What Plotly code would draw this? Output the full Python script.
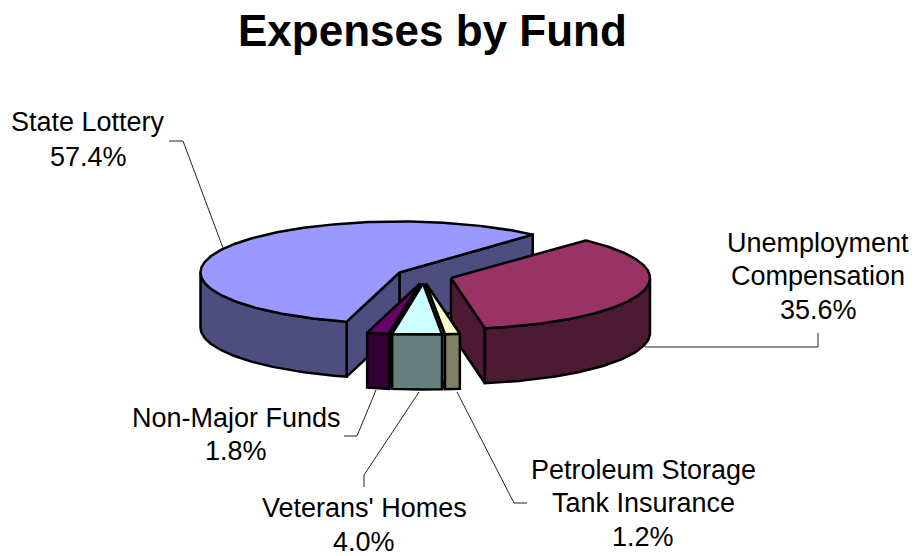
import numpy as np
import plotly.graph_objects as go

# ---- data ----
funds = ["State Lottery", "Unemployment Compensation", "Petroleum Storage Tank Insurance",
         "Veterans' Homes", "Non-Major Funds"]
shares = [57.4, 35.6, 1.2, 4.0, 1.8]
label_lines = [["State Lottery"], ["Unemployment", "Compensation"],
               ["Petroleum Storage", "Tank Insurance"], ["Veterans' Homes"], ["Non-Major Funds"]]

top_colors = ["#9999FF", "#993366", "#FFFFCC", "#CCFFFF", "#660066"]
side_colors = ["#4D4D80", "#4D1A33", "#808066", "#668080", "#330033"]

# ---- pie geometry (pixel frame) ----
RX, RY, DEPTH = 199.0, 51.0, 55.0
FIRST_CLOCK = 195.4               # clock angle where the first slice starts
apexes = [(399.5, 272.5), (451, 278), (426, 283.5), (423, 283.5), (420, 283.5)]
draw_order = [0, 1, 4, 2, 3]
label_xy = [[(88, 122)], [(818, 243), (818, 276)], [(643, 470), (643, 503)], [(364, 508)], [(236, 418)]]
pct_xy = [(88, 157), (818, 310), (643, 537), (364, 542), (236, 451)]
leaders = [
    [(223, 248), (183, 141), (169, 141)],
    [(645, 347), (818, 347), (818, 333)],
    [(457, 392), (514, 503), (527, 503)],
    [(419, 392), (364, 475), (364, 487)],
    [(376, 390), (357, 436), (344, 436)],
]

FONT = "Liberation Sans, Arial, sans-serif"
fig = go.Figure()


def pt(apex, a):
    r = np.radians(a)
    return apex[0] + RX * np.sin(r), apex[1] - RY * np.cos(r)


def poly(xs, ys, color, name):
    fig.add_trace(go.Scatter(x=list(xs) + [xs[0]], y=list(ys) + [ys[0]], mode="lines", fill="toself",
                             fillcolor=color, line=dict(color="black", width=2.5, shape="linear"),
                             name=name, showlegend=False, hoverinfo="name"))


def wall(apex, a, color, name):
    x, y = pt(apex, a)
    poly([apex[0], x, x, apex[0]], [apex[1], y, y + DEPTH, apex[1] + DEPTH], color, name)


edges = FIRST_CLOCK + np.cumsum([0] + [s * 3.6 for s in shares])
for i in draw_order:
    a0, a1 = edges[i], edges[i + 1]
    if a0 >= 360:
        a0, a1 = a0 - 360, a1 - 360
    apex = apexes[i]
    name = funds[i]
    # radial walls that face the viewer
    if (a1 % 360) < 180:
        wall(apex, a1, side_colors[i], name)
    if 180 < (a0 % 360) < 360:
        wall(apex, a0, side_colors[i], name)
    # outer curved wall: the part on the front half of the ellipse
    lo, hi = max(a0, 90), min(a1, 270)
    if hi > lo:
        t = np.linspace(lo, hi, 80)
        x, y = pt(apex, t)
        poly(np.r_[x, x[::-1]], np.r_[y, (y + DEPTH)[::-1]], side_colors[i], name)
    # top face
    t = np.linspace(a0, a1, 240)
    x, y = pt(apex, t)
    poly(np.r_[apex[0], x], np.r_[apex[1], y], top_colors[i], name)

for pts in leaders:
    fig.add_trace(go.Scatter(x=[p[0] for p in pts], y=[p[1] for p in pts], mode="lines",
                             line=dict(color="#222222", width=1), showlegend=False, hoverinfo="skip"))

anns = [dict(x=432, y=30, text="<b>Expenses by Fund</b>", font=dict(size=44, family=FONT, color="black"))]
for lines, xy, pxy, s in zip(label_lines, label_xy, pct_xy, shares):
    for ln, p in zip(lines, xy):
        anns.append(dict(x=p[0], y=p[1], text=ln, font=dict(size=27, family=FONT, color="black")))
    anns.append(dict(x=pxy[0], y=pxy[1], text=f"{s:.1f}%", font=dict(size=27, family=FONT, color="black")))
for a in anns:
    a.update(xref="x", yref="y", showarrow=False, xanchor="center", yanchor="middle")

fig.update_layout(width=916, height=556, margin=dict(l=0, r=0, t=0, b=0),
                  paper_bgcolor="white", plot_bgcolor="white", showlegend=False, annotations=anns,
                  xaxis=dict(range=[0, 916], visible=False, fixedrange=True),
                  yaxis=dict(range=[556, 0], visible=False, fixedrange=True))
fig.write_html("out.html", config={"displayModeBar": False},
               post_script="document.body.style.margin='0';document.documentElement.style.overflow='hidden';")
